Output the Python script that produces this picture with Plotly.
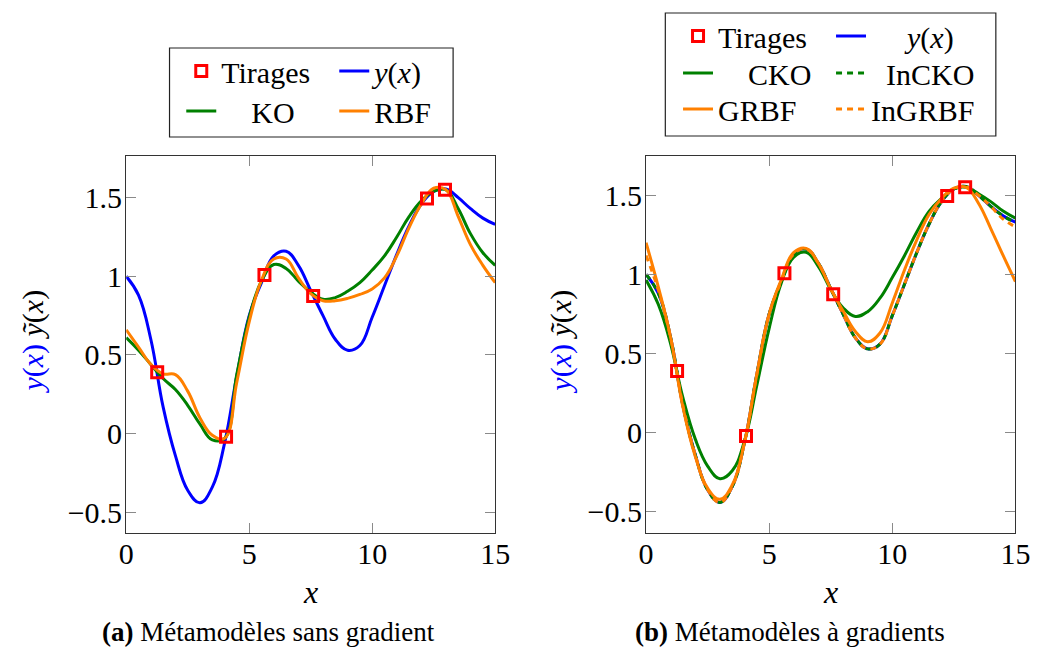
import plotly.graph_objects as go

# ---------------- data ----------------
XS = [0.0, 0.5, 1.0, 1.5, 2.0, 2.5, 3.0, 3.5, 4.0, 4.5, 5.0, 5.5, 6.0, 6.5, 7.0, 7.5,
      8.0, 8.5, 9.0, 9.5, 10.0, 10.5, 11.0, 11.5, 12.0, 12.5, 13.0, 13.5, 14.0, 14.5, 15.0]

tirages_x = [1.26, 4.06, 5.62, 7.60, 12.23, 12.96]
tirages_y = [0.39, -0.02, 1.008, 0.875, 1.495, 1.55]

y_true = [1.00, 0.88, 0.60, 0.17, -0.14, -0.36, -0.44, -0.34, -0.06, 0.37, 0.75, 0.96, 1.13, 1.16,
          1.07, 0.91, 0.75, 0.60, 0.53, 0.56, 0.74, 0.94, 1.14, 1.32, 1.46, 1.54, 1.555, 1.50,
          1.43, 1.37, 1.33]

ko = [0.61, 0.53, 0.44, 0.35, 0.28, 0.18, 0.06, -0.04, -0.03, 0.38, 0.74, 0.97, 1.075, 1.05,
      0.97, 0.90, 0.855, 0.865, 0.905, 0.96, 1.04, 1.13, 1.25, 1.38, 1.48, 1.54, 1.55, 1.43,
      1.27, 1.15, 1.07]

rbf = [0.66, 0.55, 0.44, 0.38, 0.375, 0.27, 0.10, -0.01, -0.03, 0.33, 0.71, 0.975, 1.11, 1.11,
       0.99, 0.89, 0.845, 0.845, 0.86, 0.885, 0.92, 0.99, 1.13, 1.31, 1.46, 1.56, 1.55, 1.38,
       1.20, 1.07, 0.96]

cko = [0.965, 0.81, 0.56, 0.22, -0.04, -0.21, -0.29, -0.24, -0.05, 0.30, 0.66, 0.95, 1.11, 1.14,
       1.05, 0.905, 0.79, 0.735, 0.765, 0.85, 0.98, 1.12, 1.27, 1.40, 1.48, 1.54, 1.55, 1.51,
       1.46, 1.40, 1.355]

incko = [1.00, 0.88, 0.60, 0.17, -0.14, -0.36, -0.44, -0.34, -0.06, 0.37, 0.75, 0.96, 1.13, 1.16,
         1.07, 0.91, 0.75, 0.60, 0.53, 0.56, 0.74, 0.94, 1.14, 1.32, 1.46, 1.54, 1.555, 1.50,
         1.43, 1.37, 1.33]

grbf = [1.20, 0.92, 0.60, 0.16, -0.15, -0.35, -0.42, -0.33, -0.06, 0.37, 0.75, 0.97, 1.14, 1.165,
        1.07, 0.91, 0.77, 0.64, 0.575, 0.63, 0.82, 1.03, 1.22, 1.38, 1.48, 1.545, 1.55, 1.45,
        1.29, 1.12, 0.955]

ingrbf = [1.12, 0.90, 0.60, 0.17, -0.14, -0.36, -0.44, -0.34, -0.06, 0.37, 0.75, 0.96, 1.13, 1.16,
          1.07, 0.91, 0.75, 0.60, 0.53, 0.56, 0.74, 0.94, 1.14, 1.32, 1.46, 1.54, 1.555, 1.50,
          1.43, 1.35, 1.30]

x_ticks = [0, 5, 10, 15]
y_ticks = [-0.5, 0, 0.5, 1, 1.5]
y_tick_text = ["\u22120.5", "0", "0.5", "1", "1.5"]

# ---------------- styling ----------------
# the page body has an 8px margin, so the figure is drawn 8px right / down
OFF = 8
W, H = 1040, 639
SERIF = "Liberation Serif"
BLUE = "#0000FF"
GREEN = "#008000"
ORANGE = "#FF8000"
RED = "#FF0000"
LW = 3
EM, EN, THIN = "\u2003", "\u2002", "\u2009"


def px(x):
    return (x - OFF) / W


def py(y):
    return 1 - (y - OFF) / H


fig = go.Figure()


def add_line(x, y, name, color, xa, ya, legend, rank, dash="solid"):
    fig.add_trace(go.Scatter(x=x, y=y, mode="lines", name=name,
                             line=dict(color=color, width=LW, dash=dash, shape="spline", smoothing=1.2),
                             xaxis=xa, yaxis=ya, legend=legend, legendrank=rank))


def add_tirages(xa, ya, legend):
    fig.add_trace(go.Scatter(x=tirages_x, y=tirages_y, mode="markers", name="Tirages",
                             marker=dict(symbol="square-open", size=11, color=RED,
                                         line=dict(color=RED, width=3)),
                             xaxis=xa, yaxis=ya, legend=legend, legendrank=1))


NAME_Y = "<i>y</i>(<i>x</i>)"
DASH = "6px,5px"

# left panel
add_line(XS, y_true, NAME_Y, BLUE, "x", "y", "legend", 2)
add_line(XS, ko, EM + "KO", GREEN, "x", "y", "legend2", 3)
add_line(XS, rbf, "RBF", ORANGE, "x", "y", "legend2", 4)
add_tirages("x", "y", "legend")

# right panel
add_line(XS, y_true, EM + THIN + NAME_Y, BLUE, "x2", "y2", "legend3", 2)
add_line(XS, cko, EM + "CKO", GREEN, "x2", "y2", "legend4", 3)
add_line(XS, incko, EN + "InCKO", GREEN, "x2", "y2", "legend4", 4, dash=DASH)
add_line(XS, grbf, "GRBF", ORANGE, "x2", "y2", "legend5", 5)
add_line(XS, ingrbf, "InGRBF", ORANGE, "x2", "y2", "legend5", 6, dash=DASH)
add_tirages("x2", "y2", "legend3")

axis_common = dict(showgrid=False, zeroline=False, showline=True, linecolor="#333333", linewidth=1.2,
                   mirror="ticks", ticks="inside", ticklen=10, tickwidth=1, tickcolor="#8a8a8a",
                   tickfont=dict(family=SERIF, size=30, color="black"))

y_dom = [py(533), py(155.7)]
fig.update_layout(
    width=W, height=H, margin=dict(l=0, r=0, t=0, b=0),
    paper_bgcolor="white", plot_bgcolor="white",
    xaxis=dict(domain=[px(120.7), px(498)], range=[0, 15], tickvals=x_ticks, anchor="y",
               ticklabelstandoff=-6, **axis_common),
    yaxis=dict(domain=y_dom, range=[-0.632, 1.767], tickvals=y_ticks, ticktext=y_tick_text,
               anchor="x", ticklabelstandoff=-3, **axis_common),
    xaxis2=dict(domain=[px(652.3), px(1030)], range=[0, 15], tickvals=x_ticks, anchor="y2",
                ticklabelstandoff=-6, **axis_common),
    yaxis2=dict(domain=y_dom, range=[-0.633, 1.75], tickvals=y_ticks, ticktext=y_tick_text,
                anchor="x2", ticklabelstandoff=-3, **axis_common),
    showlegend=True,
)

leg_common = dict(orientation="h", xanchor="left", yanchor="middle", bgcolor="rgba(0,0,0,0)",
                  borderwidth=0, entrywidth=108, font=dict(family=SERIF, size=30, color="black"),
                  traceorder="normal")
fig.update_layout(
    legend=dict(x=px(177), y=py(71), **leg_common),
    legend2=dict(x=px(177), y=py(111), **leg_common),
    legend3=dict(x=px(685), y=py(36), **leg_common),
    legend4=dict(x=px(685), y=py(73), **leg_common),
    legend5=dict(x=px(685), y=py(109), **leg_common),
)

# legend frames
for (x0, y0, x1, y1) in [(165, 48, 455, 137), (672, 13, 1010, 136)]:
    fig.add_shape(type="rect", xref="paper", yref="paper", x0=px(x0), x1=px(x1), y0=py(y1), y1=py(y0),
                  line=dict(color="#222222", width=1.2), fillcolor="rgba(0,0,0,0)")

YLAB = '<span style="color:#0000FF"><i>y</i>(<i>x</i>)</span> <i>ỹ</i>(<i>x</i>)'
ann = [
    dict(x=px(25), y=py(342), text=YLAB, textangle=-90, font=dict(family=SERIF, size=30)),
    dict(x=px(565), y=py(342), text=YLAB, textangle=-90, font=dict(family=SERIF, size=30)),
    dict(x=px(309), y=py(592), text="<i>x</i>", font=dict(family=SERIF, size=32)),
    dict(x=px(841), y=py(592), text="<i>x</i>", font=dict(family=SERIF, size=32)),
    dict(x=px(266), y=py(632), text="<b>(a)</b> Métamodèles sans gradient", font=dict(family=SERIF, size=27)),
    dict(x=px(800), y=py(632), text="<b>(b)</b> Métamodèles à gradients", font=dict(family=SERIF, size=27)),
]
for a in ann:
    fig.add_annotation(xref="paper", yref="paper", showarrow=False, xanchor="center", yanchor="middle",
                       **a)
for a in fig.layout.annotations:
    a.font.color = "black"

fig.write_html("out.html")
